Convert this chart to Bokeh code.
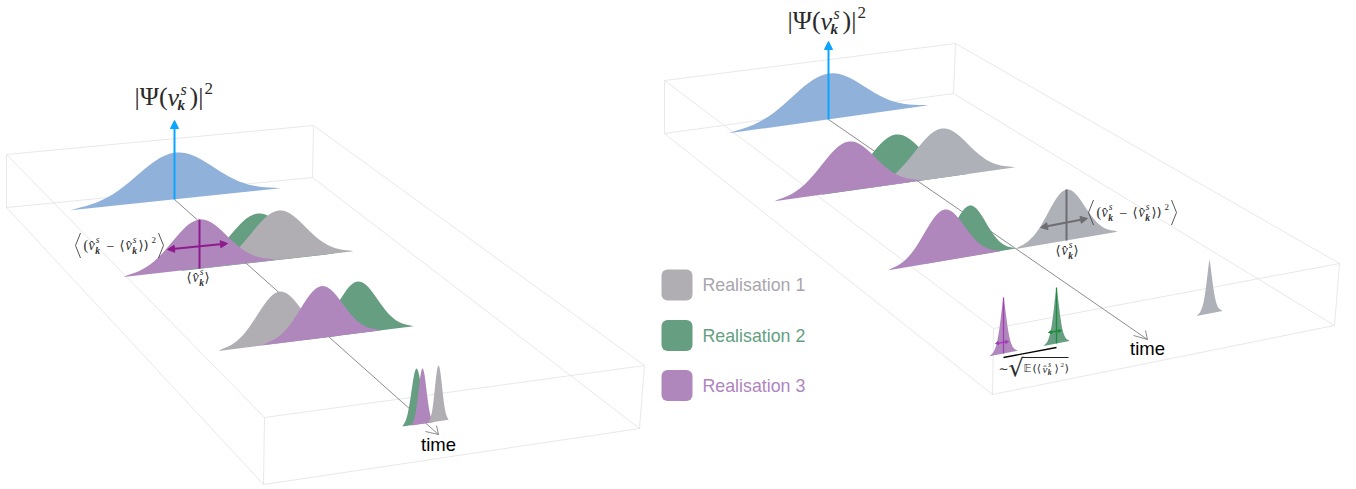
from bokeh.plotting import figure
from bokeh.embed import file_html
from bokeh.resources import INLINE
from bokeh.models import Range1d, Arrow, NormalHead
from bokeh.core.properties import value

GREY = "#b0adb3"; GREY2 = "#afb1b8"; GREEN = "#669e82"; PURPLE = "#af87bc"; BLUE = "#8fb1da"

# half of the bell outline, t = 0 ... 1 in steps of 0.05
bell_half = [1.0, .99, .962, .917, .857, .786, .707, .623, .539, .458, .381,
             .311, .249, .196, .151, .114, .085, .062, .044, .028, .004]
# the sharper outline of the late, narrow peaks in the right panel
spike_half = [1.0, .93, .84, .74, .64, .54, .45, .37, .30, .24, .19,
              .15, .12, .09, .07, .05, .04, .03, .02, .01, 0.0]

# bells, back to front in drawing order
curve_color = [BLUE, GREEN, GREY, PURPLE, GREY, GREEN, PURPLE, GREEN, PURPLE, GREY,
               BLUE, GREEN, GREY2, PURPLE, GREEN, PURPLE, GREY2, PURPLE, GREEN, GREY2]
curve_x     = [175, 257, 278, 199, 279, 357, 321, 416, 422, 438,
               828, 895, 941, 848, 969, 944, 1066, 1003, 1056, 1209]
curve_base  = [199, 262, 259.5, 268, 343, 333, 337.5, 424, 423.5, 421,
               119, 184, 177.5, 190.5, 256, 260.5, 240, 353, 343, 313]
curve_h     = [47, 49, 49.5, 49, 52, 52, 52, 56, 55.5, 56,
               46, 50, 49.5, 49.5, 51, 51.5, 51, 56, 56, 54]
curve_hw    = [105, 77, 75, 76, 61, 56, 59, 14, 11, 10,
               100, 74, 74, 74, 46, 56, 51, 14, 13, 13]
curve_slope = [-.105, -.113, -.113, -.113, -.125, -.125, -.125, -.15, -.15, -.15,
               -.14, -.141, -.141, -.141, -.17, -.17, -.17, -.2, -.2, -.2]
curve_shape = [bell_half] * 17 + [spike_half] * 3

# wire-frame boxes
box_x0 = [6, 313, 6, 6, 6, 313, 6, 312, 264, 263, 264, 644,
          664, 955, 664, 664, 664, 955, 664, 953, 993, 992, 993, 1339]
box_y0 = [154, 125, 207, 154, 154, 125, 207, 177, 417, 484, 417, 365,
          80, 43, 133, 80, 80, 43, 133, 93, 328, 394, 328, 263]
box_x1 = [313, 312, 312, 6, 264, 644, 263, 639, 644, 639, 263, 639,
          955, 953, 953, 664, 993, 1339, 992, 1334, 1339, 1334, 992, 1334]
box_y1 = [125, 177, 177, 207, 417, 365, 484, 428, 365, 428, 484, 428,
          43, 93, 93, 133, 328, 263, 394, 325, 263, 325, 394, 325]

# time axes: line, then the two strokes of the open head
time_x0 = [174, 438, 438, 828, 1147, 1147]
time_y0 = [199, 434, 434, 119, 339, 339]
time_x1 = [438, 425, 436, 1147, 1133, 1145]
time_y1 = [434, 431, 425, 339, 335, 330]
time_lbl_x = [438, 1147]
time_lbl_y = [444, 348]

# vertical mean bars and sideways width arrows
bar_x0 = [199, 1066, 1003, 1056]
bar_y0 = [219, 189, 297, 287]
bar_y1 = [268, 240, 353, 343]
bar_col = ["#8e1b8e", "#6e6e72", "#a23fb5", "#1e8b3e"]
bar_w = [2, 2, 1.3, 1.3]
wid_x0 = [167, 1040, 995, 1048]
wid_y0 = [249, 227, 343, 332]
wid_x1 = [227, 1087, 1008, 1061]
wid_y1 = [243, 218, 341, 330]
wid_head = [7, 7, 3, 3]

legend_labels = ["Realisation 1", "Realisation 2", "Realisation 3"]
legend_colors = [GREY, GREEN, PURPLE]
legend_text_colors = ["#a9a6ad", "#64a07f", "#b084c0"]
legend_y = [284.5, 335, 385]

W, H = 1356, 489
p = figure(width=W, height=H, output_backend="svg", toolbar_location=None,
           x_range=Range1d(0, W), y_range=Range1d(H, 0),
           min_border=0, outline_line_color=None)
p.xaxis.visible = False
p.yaxis.visible = False
p.grid.visible = False
p.background_fill_color = "white"

p.segment(box_x0, box_y0, box_x1, box_y1, line_color="#e2e2e5", line_width=0.8)
p.segment(time_x0, time_y0, time_x1, time_y1, line_color="#707070", line_width=0.8)

for col, cx, base, h, hw, s, half in zip(curve_color, curve_x, curve_base, curve_h, curve_hw, curve_slope, curve_shape):
    n = len(half) - 1
    ts = [-(n - i) / n for i in range(n)] + [i / n for i in range(n + 1)]
    prof = half[:0:-1] + half
    xs = [cx + t * hw for t in ts]
    ys = [base + s * (x - cx) - h * v for x, v in zip(xs, prof)]
    p.patch(xs, ys, fill_color=col, line_color=None)

# blue arrows
for x0, y0, y1 in [(174, 199, 120), (828, 119, 41)]:
    p.add_layout(Arrow(x_start=x0, y_start=y0, x_end=x0, y_end=y1, line_color="#0aa5ff", line_width=2,
                       end=NormalHead(size=8, fill_color="#0aa5ff", line_color="#0aa5ff")))

p.segment(bar_x0, bar_y0, bar_x0, bar_y1, line_color=bar_col, line_width=bar_w)
for x0, y0, x1, y1, c, s, w in zip(wid_x0, wid_y0, wid_x1, wid_y1, bar_col, wid_head, bar_w):
    p.add_layout(Arrow(x_start=x0, y_start=y0, x_end=x1, y_end=y1, line_color=c, line_width=w,
                       start=NormalHead(size=s, fill_color=c, line_color=c),
                       end=NormalHead(size=s, fill_color=c, line_color=c)))
# spread of the means
p.line([1056, 1003], [347, 357], line_color="black", line_width=1.3)


def put(x, y, s, size, style="normal", font="Liberation Serif", color="#2a2a2a"):
    p.text([x], [y], text=[s], text_font=value(font), text_font_size=f"{size}px",
           text_font_style=style, text_color=color, text_align="left", text_baseline="middle")


def title(x, y):
    put(x, y, "|Ψ(", 26)
    put(x + 33, y + 1, "v", 26, "italic")
    put(x + 46, y - 7, "s", 16, "italic")
    put(x + 43, y + 8, "k", 15, "bold italic")
    put(x + 55, y, ")|", 26)
    put(x + 70, y - 8, "2", 17)


def vhat(x, y, size=14):
    put(x, y, "v\u0302", size, "italic")
    put(x + size * .52, y - size * .38, "s", size * .68, "italic")
    put(x + size * .48, y + size * .36, "k", size * .68, "bold italic")


def mean_label(x, y):
    put(x, y, "⟨", 13, font="DejaVu Sans")
    vhat(x + 6, y)
    put(x + 18, y, "⟩", 13, font="DejaVu Sans")


def big_bracket(x, y, flip):
    p.line([x + 5 * flip, x, x + 5 * flip], [y - 12.5, y, y + 12.5], line_color="#444444", line_width=0.9)


def var_label(x, y):
    big_bracket(x + 1, y, 1)
    put(x + 9, y, "(", 14)
    vhat(x + 14, y)
    put(x + 32, y, "−", 14)
    put(x + 45, y, "⟨", 13, font="DejaVu Sans")
    vhat(x + 51, y)
    put(x + 64, y, "⟩)", 13, font="DejaVu Sans")
    put(x + 77, y - 6, "2", 9)
    big_bracket(x + 89, y, -1)


title(134, 96)
title(787, 20)
var_label(74, 245)
var_label(1087, 212)
mean_label(186, 277)
mean_label(1055, 250)

# sqrt label
put(998, 368, "∼", 12, font="DejaVu Sans")
put(1008, 367, "√", 24, font="DejaVu Sans")
put(1023, 368, "𝔼", 11, font="DejaVu Sans")
put(1032, 368, "(⟨", 11, font="DejaVu Sans")
vhat(1042, 368, 11)
put(1054, 368, "⟩", 11, font="DejaVu Sans")
put(1060, 364, "2", 7)
put(1064, 368, ")", 11, font="DejaVu Sans")
p.line([1022, 1068], [357, 357], line_color="#222222", line_width=1)

p.text(time_lbl_x, time_lbl_y, text=["time", "time"], text_font=value("Liberation Sans"),
       text_font_size="18.5px", text_color="black", text_align="center", text_baseline="middle")

p.rect([676.5] * 3, legend_y, width=31, height=31, fill_color=legend_colors, line_color=None,
       border_radius=6)
p.text([702] * 3, legend_y, text=legend_labels, text_font=value("Liberation Sans"),
       text_font_size="17.8px", text_color=legend_text_colors, text_align="left", text_baseline="middle")

open("out.html", "w").write(file_html(p, INLINE))
